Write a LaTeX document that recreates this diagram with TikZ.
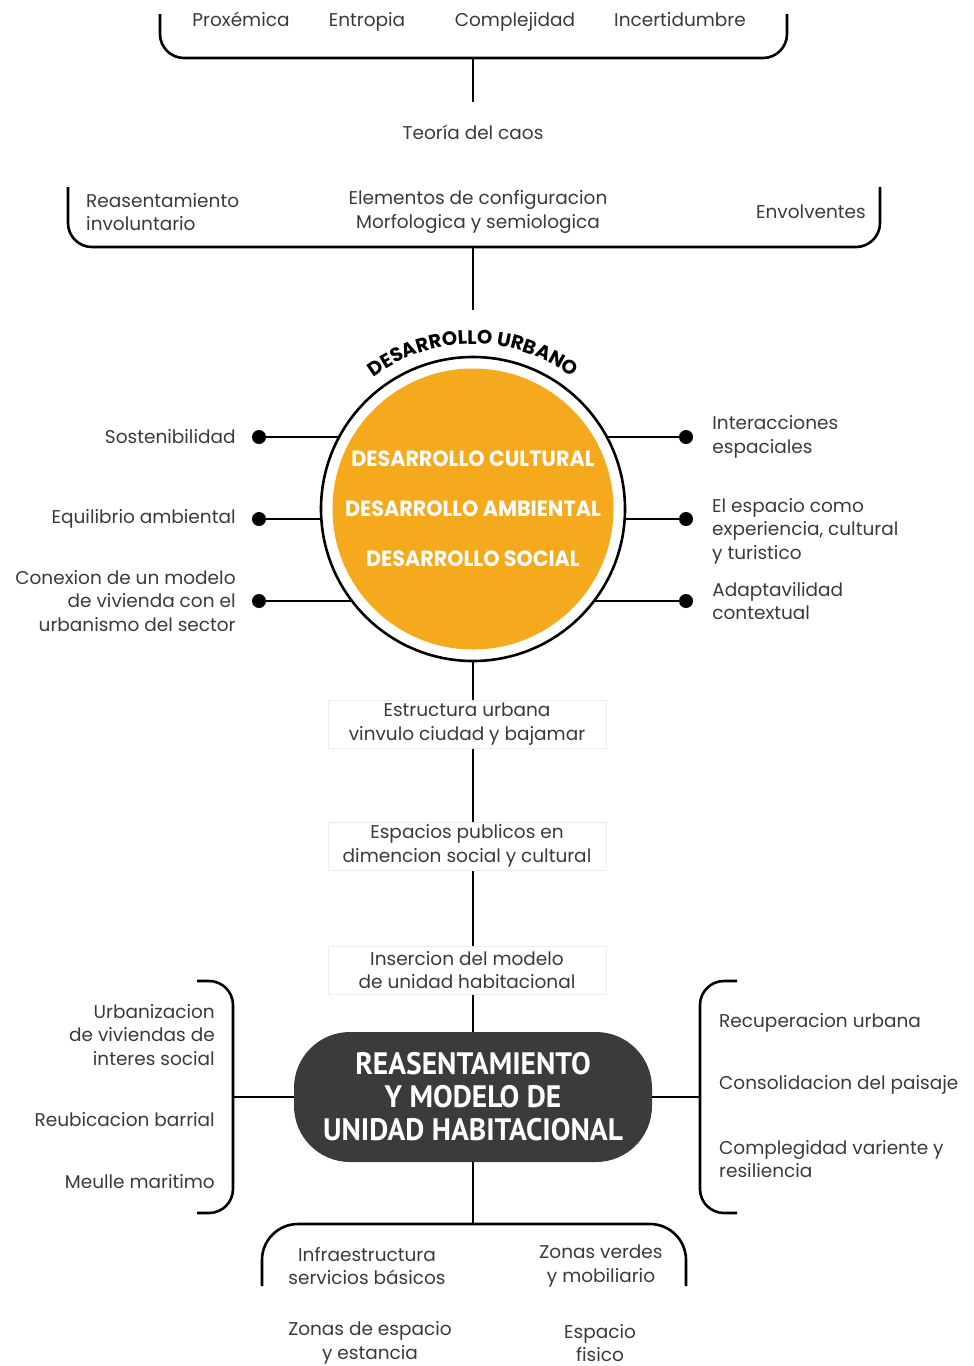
\documentclass[tikz,border=0pt]{standalone}
\usepackage{fontspec}
\setmainfont{Poppins}
\newfontfamily\capfont{Poppins}[FakeStretch=0.94]
\newfontfamily\pillfont{PT Sans}[FakeStretch=0.95]
\usetikzlibrary{positioning,decorations.text}

\definecolor{ocre}{HTML}{F5A91D}
\definecolor{pillgray}{HTML}{3B3B3B}
\definecolor{txtgray}{HTML}{3A3A3A}

\tikzset{
  lbl/.style={font=\fontsize{18.5}{23.5}\selectfont, text=txtgray, inner sep=0pt, align=center},
  lblL/.style={lbl, align=right},
  lblR/.style={lbl, align=left},
  dot/.style={circle, fill=black, inner sep=0pt, minimum size=14pt},
  corelbl/.style={font=\capfont\bfseries\fontsize{22}{22}\selectfont, text=white, inner sep=0pt},
  tagbox/.style={lbl, draw=black!7, fill=white, minimum width=278pt, minimum height=48pt},
  link/.style={line width=2.6pt},
  brace/.style={line width=2.6pt, rounded corners=24pt},
}

\begin{document}
\begin{tikzpicture}[x=1pt,y=1pt]
\useasboundingbox (0,0) rectangle (974,-1366);

% teoria del caos
\draw[brace] (160,-14) -- (160,-58) -- (787,-58) -- (787,-14);
\coordinate (topmid) at (473,-58);
\coordinate (topend) at (473,-102);
\node[lbl, anchor=base] (prox) at (241,-26) {Proxémica};
\node[lbl, anchor=base] (entr) at (367,-26) {Entropia};
\node[lbl, anchor=base] (compl) at (515,-26) {Complejidad};
\node[lbl, anchor=base] (incert) at (680,-26) {Incertidumbre};
\draw[link] (topmid) -- (topend);
\node[lbl] (caos) at (473,-132) {Teoría del caos};

% elementos
\draw[brace] (68,-187) -- (68,-247) -- (880,-247) -- (880,-187);
\coordinate (elemmid) at (473,-247);
\coordinate (elemend) at (473,-310);
\node[lblR, anchor=west] (reas) at (86,-212) {Reasentamiento\\involuntario};
\node[lbl] (elem) at (478,-212) {Elementos de configuracion\\Morfologica y semiologica};
\node[lbl, anchor=east] (envol) at (866,-212) {Envolventes};
\draw[link] (elemmid) -- (elemend);

% desarrollo urbano
\coordinate (hub) at (473,-509);
\node[dot] (dl1) at (259,-437) {};
\node[dot] (dl2) at (259,-519) {};
\node[dot] (dl3) at (259,-601) {};
\node[dot] (dr1) at (686,-437) {};
\node[dot] (dr2) at (686,-519) {};
\node[dot] (dr3) at (686,-601) {};
\foreach \d in {dl1,dl2,dl3,dr1,dr2,dr3}
  \draw[link] (\d.center) -- (\d -| hub);

\node[circle, draw, link, fill=white, minimum size=304pt, inner sep=0pt] (ring) at (hub) {};
\node[circle, fill=ocre, minimum size=281pt, inner sep=0pt] (core) at (hub) {};
\node[corelbl] (cult) at (473,-459) {DESARROLLO CULTURAL};
\node[corelbl] (amb) at (473,-509) {DESARROLLO AMBIENTAL};
\node[corelbl] (soc) at (473,-559) {DESARROLLO SOCIAL};
\path[decorate, decoration={text along path, text align=center,
  text={|\bfseries\fontsize{19.5}{19.5}\selectfont|DESARROLLO URBANO}}]
  (hub) ++(138:165) arc (138:42:165);

\node[lblL, left=16pt of dl1] (sost) {Sostenibilidad};
\node[lblL, left=16pt of dl2] (equi) {Equilibrio ambiental};
\node[lblL, left=16pt of dl3] (conex) {Conexion de un modelo\\de vivienda con el\\urbanismo del sector};
\node[lblR, right=19pt of dr1] (inter) {Interacciones\\espaciales};
\node[lblR, anchor=west] (espac) at (712,-531) {El espacio como\\experiencia, cultural\\y turistico};
\node[lblR, right=19pt of dr3] (adapt) {Adaptavilidad\\contextual};

% reasentamiento
\node[rectangle, rounded corners=56pt, fill=pillgray, minimum width=358pt, minimum height=130pt,
  text=white, align=center, font=\pillfont\bfseries\fontsize{31}{33}\selectfont] (pill) at (473,-1097)
  {REASENTAMIENTO\\Y MODELO DE\\UNIDAD HABITACIONAL};
\draw[link] (ring.south) -- (pill.north);
\node[tagbox] (estr) at (467,-724) {Estructura urbana\\vinvulo ciudad y bajamar};
\node[tagbox] (espu) at (467,-846) {Espacios publicos en\\dimencion social y cultural};
\node[tagbox] (inser) at (467,-970) {Insercion del modelo\\de unidad habitacional};

% laterales
\draw[brace] (197,-981) -- (233,-981) -- (233,-1213) -- (197,-1213);
\draw[brace] (737,-981) -- (700,-981) -- (700,-1213) -- (737,-1213);
\coordinate (lbr) at (233,-1097);
\coordinate (rbr) at (700,-1097);
\draw[link] (pill.west) -- (lbr);
\draw[link] (pill.east) -- (rbr);
\node[lblL, anchor=east] (urban) at (215,-1035) {Urbanizacion\\de viviendas de\\interes social};
\node[lblL, anchor=east] (reub) at (215,-1120) {Reubicacion barrial};
\node[lblL, anchor=east] (muelle) at (215,-1182) {Meulle maritimo};
\node[lblR, anchor=west] (recup) at (719,-1023) {Recuperacion urbana};
\node[lblR, anchor=west] (conso) at (719,-1085) {Consolidacion del paisaje};
\node[lblR, anchor=west] (resil) at (719,-1159) {Complegidad variente y\\resiliencia};

% espacio fisico
\draw[brace, rounded corners=36pt] (262,-1286) -- (262,-1224) -- (686,-1224) -- (686,-1286);
\coordinate (botmid) at (473,-1224);
\draw[link] (pill.south) -- (botmid);
\node[lbl] (infra) at (367,-1266) {Infraestructura\\servicios básicos};
\node[lbl] (verdes) at (601,-1266) {Zonas verdes\\y mobiliario};
\node[lbl] (estan) at (370,-1343) {Zonas de espacio\\y estancia};
\node[lbl] (fisico) at (600,-1343) {Espacio\\fisico};
\end{tikzpicture}
\end{document}
